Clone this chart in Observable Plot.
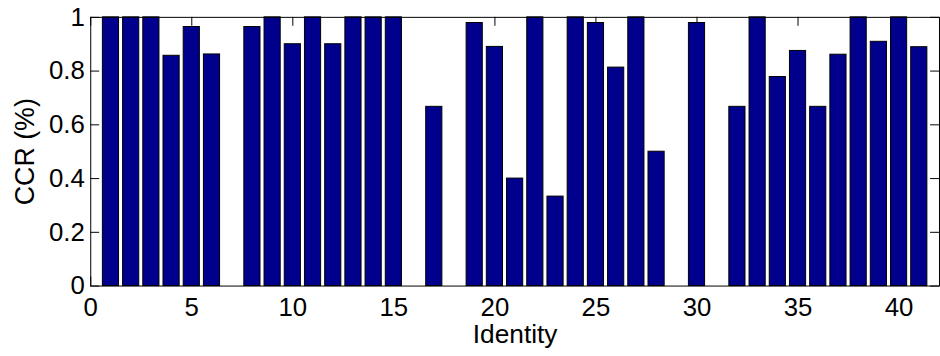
<!DOCTYPE html>
<html>
<head>
<meta charset="utf-8">
<script src="https://cdn.jsdelivr.net/npm/d3@7"></script>
<script src="https://cdn.jsdelivr.net/npm/@observablehq/plot@0.6"></script>
<style>
  html, body { margin: 0; padding: 0; background: #fff; overflow: hidden; }
  #chart { width: 940px; height: 356px; overflow: hidden; }
</style>
</head>
<body>
<div id="chart"></div>
<script>
// Correct classification rate for each identity
const identities = d3.range(1, 42);
const ccr = [
  1, 1, 1, 0.857, 0.964, 0.862, 0, 0.964, 1, 0.9,
  1, 0.9, 1, 1, 1, 0, 0.667, 0, 0.979, 0.89,
  0.4, 1, 0.333, 1, 0.979, 0.813, 1, 0.5, 0, 0.979,
  0, 0.667, 1, 0.778, 0.875, 0.667, 0.861, 1, 0.909, 1,
  0.889
];
const xTicks = [0, 5, 10, 15, 20, 25, 30, 35, 40];
const yTicks = [0, 0.2, 0.4, 0.6, 0.8, 1];

const table = identities.map((id, i) => ({id, ccr: ccr[i]}));

const font = "'Liberation Sans', Arial, Helvetica, sans-serif";
const W = 948, H = 356;
const mL = 91, mR = 1, mT = 17, mB = 68;
const plotW = W - mL - mR, plotH = H - mT - mB;
const tick = 9;       // inward tick length, px
const barWidth = 0.8; // in identity units

const chart = Plot.plot({
  width: W,
  height: H,
  marginLeft: mL,
  marginRight: mR,
  marginTop: mT,
  marginBottom: mB,
  style: {fontFamily: font, fontSize: "26px", background: "#fff", color: "#000"},
  x: {domain: [0, 42]},
  y: {domain: [0, 1]},
  marks: [
    // inward ticks on all four sides, beneath the bars
    Plot.ruleX(xTicks, {x: d => d, insetTop: plotH - tick, stroke: "#000", strokeWidth: 1}),
    Plot.ruleX(xTicks, {x: d => d, insetBottom: plotH - tick, stroke: "#000", strokeWidth: 1}),
    Plot.ruleY(yTicks, {y: d => d, insetRight: plotW - tick, stroke: "#000", strokeWidth: 1}),
    Plot.ruleY(yTicks, {y: d => d, insetLeft: plotW - tick, stroke: "#000", strokeWidth: 1}),
    Plot.rectY(table, {
      x1: d => d.id - barWidth / 2,
      x2: d => d.id + barWidth / 2,
      y: "ccr",
      fill: "#00008c",
      stroke: "#000",
      strokeWidth: 1
    }),
    Plot.frame({stroke: "#000", strokeWidth: 1}),
    Plot.axisX(xTicks, {tickSize: 0, tickPadding: 12, fontSize: 26, label: null, tickFormat: d => String(d)}),
    Plot.axisY(yTicks, {tickSize: 0, tickPadding: 6, fontSize: 26, label: null, tickFormat: d => String(d)}),
    Plot.text(["Identity"], {
      frameAnchor: "bottom", dy: 48.5, lineAnchor: "middle", textAnchor: "middle",
      fontSize: 26.5, fill: "#000"
    }),
    Plot.text(["CCR (%)"], {
      frameAnchor: "left", dx: -66, rotate: -90, lineAnchor: "middle", textAnchor: "middle",
      fontSize: 27, fill: "#000"
    })
  ]
});

document.getElementById("chart").appendChild(chart);
</script>
</body>
</html>
